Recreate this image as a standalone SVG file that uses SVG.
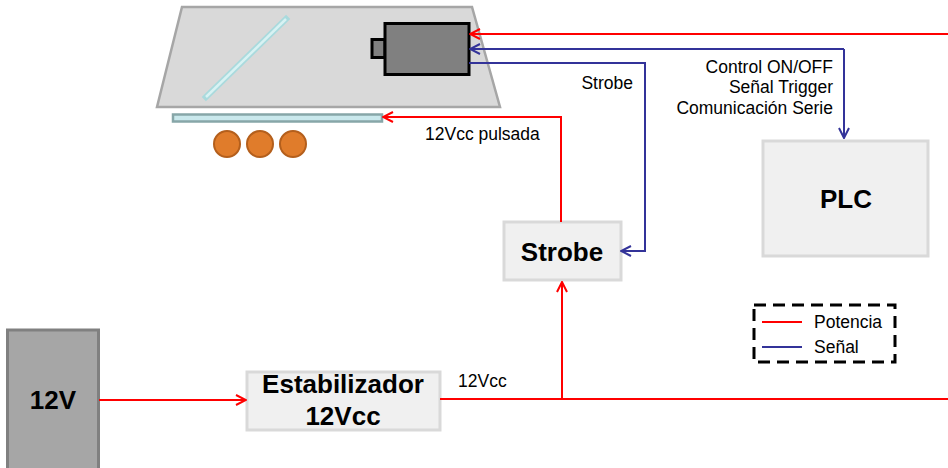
<svg xmlns="http://www.w3.org/2000/svg" width="948" height="468" viewBox="0 0 948 468">
  <style>
    .lbl { font-family: "Liberation Sans", Arial, sans-serif; font-size: 17.5px; fill: #000; }
    .big { font-family: "Liberation Sans", Arial, sans-serif; font-size: 26px; font-weight: bold; fill: #000; text-anchor: middle; }
    .box { fill: #f0f0f0; stroke: #d9d9d9; stroke-width: 3; }
    .pwr { fill: none; stroke: #ff0000; stroke-width: 2; }
    .sig { fill: none; stroke: #333399; stroke-width: 2; }
  </style>
  <defs>
    <marker id="arrRed" viewBox="0 0 12 12" refX="11" refY="6" markerWidth="12" markerHeight="12" markerUnits="userSpaceOnUse" orient="auto">
      <path d="M1,1 L11,6 L1,11" fill="none" stroke="#ff0000" stroke-width="2"/>
    </marker>
    <marker id="arrBlue" viewBox="0 0 12 12" refX="11" refY="6" markerWidth="12" markerHeight="12" markerUnits="userSpaceOnUse" orient="auto">
      <path d="M1,1 L11,6 L1,11" fill="none" stroke="#333399" stroke-width="2"/>
    </marker>
  </defs>

  <!-- Inspection station: base plate, mirror, camera, light bar and parts -->
  <g id="station">
    <polygon points="182,7 472,7 500,107 157,107" fill="#d9d9d9" stroke="#a6a6a6" stroke-width="2.5"/>
    <line x1="206" y1="97" x2="286" y2="19" stroke="#a9dadd" stroke-width="6" stroke-linecap="square"/>
    <line x1="206" y1="97" x2="286" y2="19" stroke="#d8f2f3" stroke-width="2.5"/>
  </g>
  <g id="camera">
    <rect x="372" y="39.5" width="13" height="18" fill="#808080" stroke="#000" stroke-width="3"/>
    <rect x="385" y="23.5" width="84" height="51" fill="#808080" stroke="#000" stroke-width="3"/>
  </g>
  <g id="lightbar">
    <rect x="173" y="114.5" width="209" height="7" fill="#c9e8ec" stroke="#87a6a8" stroke-width="2.5"/>
  </g>
  <g id="parts" fill="#e07c2b" stroke="#b45f1c" stroke-width="2">
    <circle cx="227" cy="144" r="13"/>
    <circle cx="260" cy="144" r="13"/>
    <circle cx="293" cy="144" r="13"/>
  </g>

  <!-- Blocks -->
  <g id="plc">
    <rect class="box" x="763" y="141" width="165" height="115"/>
    <text class="big" x="846" y="208">PLC</text>
  </g>
  <g id="strobe">
    <rect class="box" x="504" y="222" width="117" height="58"/>
    <text class="big" x="562" y="261">Strobe</text>
  </g>
  <g id="stabilizer">
    <rect class="box" x="247" y="372" width="193" height="58"/>
    <text class="big" x="343" y="393">Estabilizador</text>
    <text class="big" x="343" y="425">12Vcc</text>
  </g>
  <g id="supply">
    <rect x="7.5" y="330" width="91" height="150" fill="#a6a6a6" stroke="#808080" stroke-width="3"/>
    <text class="big" x="53" y="409">12V</text>
  </g>

  <!-- Connectors -->
  <g id="connectors">
    <path class="pwr" d="M948,34 H470" marker-end="url(#arrRed)"/>
    <path class="sig" d="M844,49 H470" marker-end="url(#arrBlue)"/>
    <path class="sig" d="M844,49 V138" marker-end="url(#arrBlue)"/>
    <path class="sig" d="M469,63 H645 V251 H621" marker-end="url(#arrBlue)"/>
    <path class="pwr" d="M561,222 V117 H383" marker-end="url(#arrRed)"/>
    <path class="pwr" d="M99,400 H246" marker-end="url(#arrRed)"/>
    <path class="pwr" d="M440,399 H948"/>
    <path class="pwr" d="M562,399 V282" marker-end="url(#arrRed)"/>
  </g>

  <!-- Connector labels -->
  <g id="labels">
    <text class="lbl" x="633" y="89" text-anchor="end">Strobe</text>
    <text class="lbl" x="833" y="73" text-anchor="end">Control ON/OFF</text>
    <text class="lbl" x="833" y="93" text-anchor="end">Señal Trigger</text>
    <text class="lbl" x="833" y="114" text-anchor="end">Comunicación Serie</text>
    <text class="lbl" x="425" y="140">12Vcc pulsada</text>
    <text class="lbl" x="458" y="387">12Vcc</text>
  </g>

  <!-- Legend -->
  <g id="legend">
    <rect x="754" y="305" width="141" height="57" fill="none" stroke="#000" stroke-width="3" stroke-dasharray="12,7"/>
    <line class="pwr" x1="762" y1="322" x2="802" y2="322"/>
    <line class="sig" x1="762" y1="347" x2="802" y2="347"/>
    <text class="lbl" x="814" y="328">Potencia</text>
    <text class="lbl" x="814" y="353">Señal</text>
  </g>
</svg>
